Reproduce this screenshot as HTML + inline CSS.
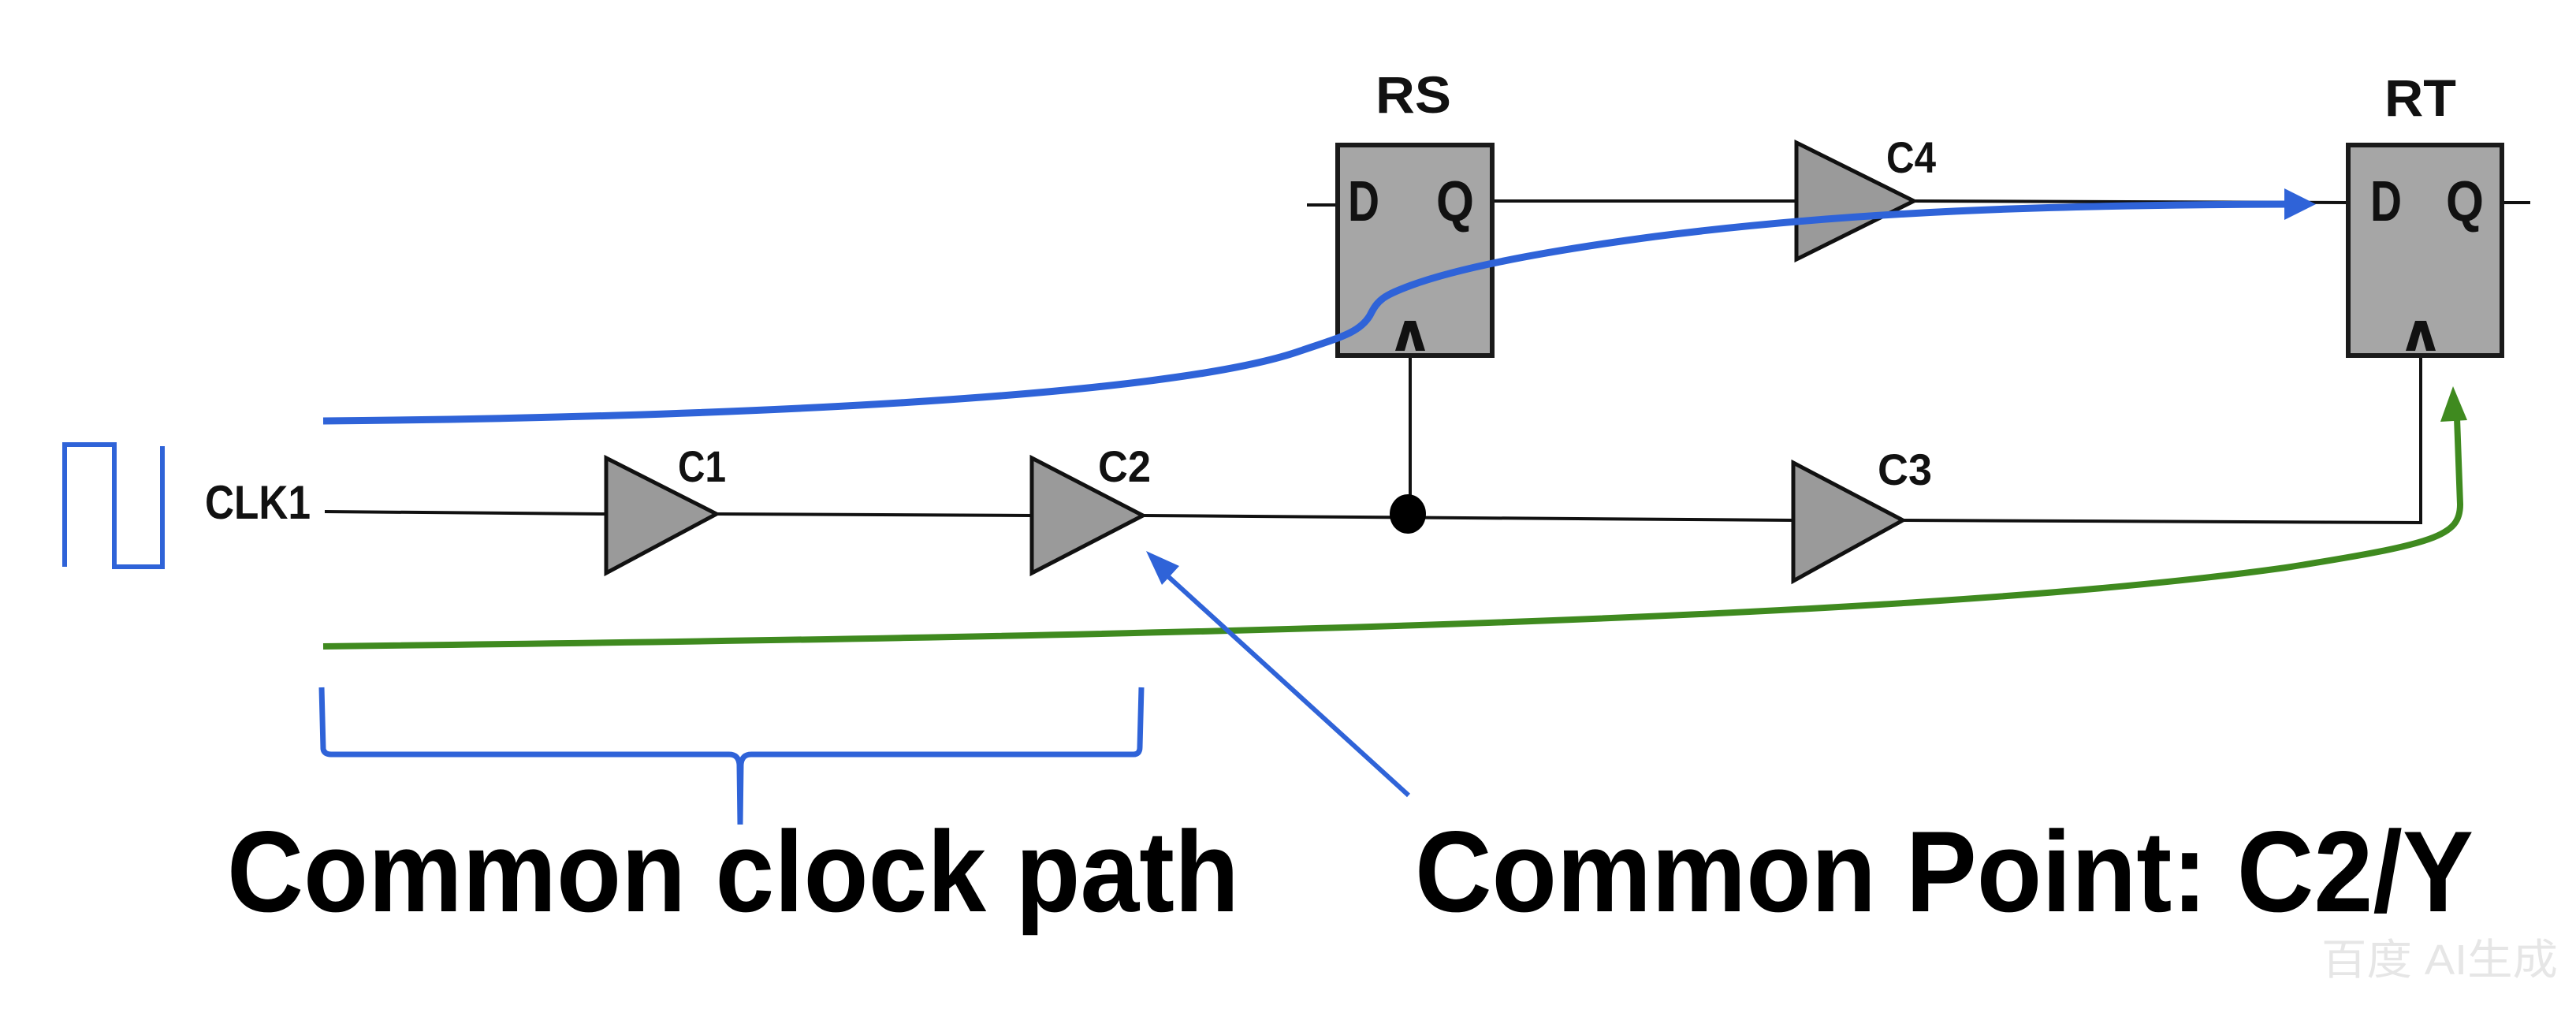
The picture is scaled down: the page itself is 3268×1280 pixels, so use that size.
<!DOCTYPE html>
<html><head><meta charset="utf-8"><style>
html,body{margin:0;padding:0;background:#fff;}
svg{display:block;}
text{font-family:"Liberation Sans",Arial,sans-serif;}
</style></head><body>
<svg width="3268" height="1280" viewBox="0 0 3268 1280" xmlns="http://www.w3.org/2000/svg">
<rect width="3268" height="1280" fill="#fff"/>
<path d="M82,719 L82,564 L145,564 L145,719 L206,719 L206,566" fill="none" stroke="#2f63d8" stroke-width="6"/>
<text x="260" y="658" font-size="60" font-weight="bold" fill="#111" textLength="134" lengthAdjust="spacingAndGlyphs">CLK1</text>
<g stroke="#111" stroke-width="4" fill="none">
<line x1="412" y1="649" x2="769" y2="652"/>
<line x1="909" y1="652" x2="1309" y2="654"/>
<line x1="1450" y1="654" x2="2275" y2="660"/>
<polyline points="2414,660 3071,663 3071,452"/>
<line x1="1789" y1="452" x2="1789" y2="655"/>
<line x1="1658" y1="260" x2="1697" y2="260"/>
<line x1="1893" y1="255" x2="2279" y2="255"/>
<line x1="2428" y1="255" x2="2979" y2="257"/>
<line x1="3174" y1="257" x2="3210" y2="257"/>
</g>
<ellipse cx="1786" cy="652" rx="23" ry="25" fill="#000"/>
<g fill="#9a9a9a" stroke="#111" stroke-width="5" stroke-linejoin="miter">
<polygon points="769,581 909,652 769,727"/>
<polygon points="1309,581 1450,654 1309,727"/>
<polygon points="2275,587 2414,660 2275,737"/>
<polygon points="2279,181 2428,255 2279,329"/>
</g>
<g font-size="56" fill="#111" font-weight="bold">
<text x="860" y="611" textLength="61" lengthAdjust="spacingAndGlyphs">C1</text>
<text x="1393" y="611" textLength="67" lengthAdjust="spacingAndGlyphs">C2</text>
<text x="2382" y="615" textLength="69" lengthAdjust="spacingAndGlyphs">C3</text>
<text x="2393" y="219" textLength="63" lengthAdjust="spacingAndGlyphs">C4</text>
</g>
<g fill="#a6a6a6" stroke="#1a1a1a" stroke-width="6">
<rect x="1697" y="184" width="196" height="267"/>
<rect x="2979" y="184" width="195" height="267"/>
</g>
<g font-size="72" font-weight="bold" fill="#111">
<text x="1710" y="280" textLength="40" lengthAdjust="spacingAndGlyphs">D</text>
<text x="1822" y="280" textLength="48" lengthAdjust="spacingAndGlyphs">Q</text>
<text x="3007" y="280" textLength="40" lengthAdjust="spacingAndGlyphs">D</text>
<text x="3103" y="280" textLength="48" lengthAdjust="spacingAndGlyphs">Q</text>
<text x="1745" y="143" font-size="66" textLength="96" lengthAdjust="spacingAndGlyphs">RS</text>
<text x="3025" y="147" font-size="66" textLength="91" lengthAdjust="spacingAndGlyphs">RT</text>
</g>
<g fill="#111">
<polygon points="1770,445 1782,407 1796,407 1808,445 1796,445 1789,420 1782,445"/>
<polygon points="3052,445 3064,407 3078,407 3090,445 3078,445 3071,420 3064,445"/>
</g>
<path d="M410,534 C900,530 1480,505 1650,445 C1700,428 1725,422 1738,400 C1748,380 1755,375 1790,362 C1850,340 1950,320 2100,300 C2350,268 2600,260 2900,259" fill="none" stroke="#2f63d8" stroke-width="9"/>
<polygon points="2938,259 2898,239 2898,279" fill="#2f63d8"/>
<path d="M410,820 C1400,808 2400,790 2900,720 C3090,690 3121,680 3121,640 L3117,530" fill="none" stroke="#3f8a1f" stroke-width="8"/>
<polygon points="3112,490 3096,535 3130,533" fill="#3f8a1f"/>
<line x1="1787" y1="1009" x2="1475" y2="725" stroke="#2f63d8" stroke-width="6"/>
<polygon points="1454,699 1496,718 1474,742" fill="#2f63d8"/>
<path d="M408,872 L410,950 Q411,957 420,957 L925,957 Q937,957 938,970 L939,1046 L940,970 Q941,957 953,957 L1438,957 Q1446,957 1446,948 L1448,872" fill="none" stroke="#2f63d8" stroke-width="7"/>
<text x="288" y="1156" font-size="146" font-weight="bold" fill="#000" textLength="1284" lengthAdjust="spacingAndGlyphs">Common clock path</text>
<text x="1795" y="1156" font-size="146" font-weight="bold" fill="#000" textLength="1343" lengthAdjust="spacingAndGlyphs">Common Point: C2/Y</text>
<text x="2945" y="1236" font-size="54" fill="#e6e6e6" font-family="'Liberation Sans','Noto Sans CJK SC',sans-serif" textLength="300" lengthAdjust="spacingAndGlyphs">百度 AI生成</text>
</svg>
</body></html>
